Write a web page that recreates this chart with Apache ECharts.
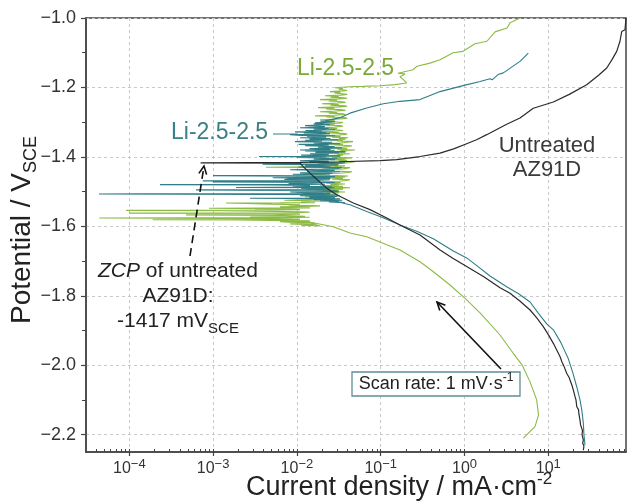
<!DOCTYPE html>
<html>
<head>
<meta charset="utf-8">
<script src="https://cdn.jsdelivr.net/npm/echarts@6/dist/echarts.min.js"></script>
<style>
  html, body { margin: 0; padding: 0; background: #fff; }
  #chart { width: 628px; height: 502px; }
</style>
</head>
<body>
<div id="chart"></div>
<script>
const FONT = '"Liberation Sans", Arial, Helvetica, sans-serif';

// Each point: [log10 of current density in mA·cm⁻², potential in V vs SCE]

// Untreated AZ91D: cathodic branch (from -2.25 V upward), zero-current point, anodic branch
const untreatedCathodic = [
  [1.418,-2.245],[1.425,-2.232],[1.410,-2.225],[1.418,-2.215],[1.402,-2.200],[1.408,-2.188],
  [1.385,-2.172],[1.378,-2.158],[1.365,-2.140],[1.360,-2.128],[1.339,-2.119],[1.330,-2.100],
  [1.318,-2.090],[1.298,-2.071],[1.285,-2.060],[1.262,-2.045],[1.250,-2.036],[1.219,-2.023],
  [1.185,-2.002],[1.162,-1.990],[1.139,-1.975],[1.100,-1.956],[1.060,-1.937],[1.000,-1.912],
  [0.940,-1.889],[0.862,-1.864],[0.782,-1.841],[0.660,-1.815],[0.543,-1.793],[0.424,-1.777],
  [0.230,-1.745],[0.026,-1.716],[-0.140,-1.692],[-0.292,-1.668],[-0.531,-1.625],[-0.730,-1.601],
  [-0.928,-1.576],[-1.128,-1.552],[-1.327,-1.533],[-1.525,-1.509],[-1.645,-1.490],[-1.804,-1.456],
  [-1.924,-1.428],[-1.963,-1.418]
];
const untreatedZcp = [[-3.15,-1.417]];
const untreatedAnodic = [
  [-1.963,-1.416],[-1.500,-1.414],[-1.008,-1.411],[-0.809,-1.408],[-0.531,-1.399],[-0.292,-1.389],
  [-0.130,-1.377],[0.026,-1.362],[0.150,-1.350],[0.265,-1.336],[0.503,-1.306],[0.662,-1.288],
  [0.821,-1.260],[1.060,-1.242],[1.250,-1.220],[1.458,-1.192],[1.600,-1.165],[1.697,-1.144],
  [1.760,-1.120],[1.816,-1.096],[1.855,-1.067],[1.876,-1.039],[1.915,-1.034],[1.927,-1.000]
];

// Li-2.5-2.5 (teal)
const tealCathodic = [
  [1.438,-2.230],[1.425,-2.200],[1.418,-2.167],[1.400,-2.130],[1.378,-2.100],[1.339,-2.062],
  [1.290,-2.020],[1.235,-1.979],[1.150,-1.935],[1.060,-1.898],[0.981,-1.881],[0.880,-1.850],
  [0.782,-1.818],[0.650,-1.795],[0.503,-1.774],[0.304,-1.743],[0.150,-1.714],[0.026,-1.691],
  [-0.134,-1.671],[-0.372,-1.636],[-0.570,-1.614],[-0.770,-1.596],[-0.970,-1.575],[-1.167,-1.557],
  [-1.366,-1.538],[-1.525,-1.529]
];
const tealActive = [
  [-1.426,-1.532],[-1.62,-1.530],[-1.50,-1.528],[-1.724,-1.527],[-1.46,-1.525],[-1.80,-1.523],
  [-1.486,-1.521],[-2.10,-1.520],[-2.560,-1.519],[-1.60,-1.5185],[-1.545,-1.518],[-1.85,-1.516],
  [-1.52,-1.514],[-1.963,-1.512],[-1.58,-1.510],[-1.510,-1.509],[-2.40,-1.508],[-4.362,-1.507],
  [-3.884,-1.5065],[-1.70,-1.506],[-1.605,-1.505],[-1.90,-1.503],[-2.082,-1.501],[-1.50,-1.500],
  [-1.545,-1.498],[-2.20,-1.497],[-3.204,-1.495],[-1.75,-1.494],[-1.605,-1.493],[-1.95,-1.491],
  [-1.963,-1.490],[-1.55,-1.489],[-2.727,-1.488],[-1.85,-1.487],[-1.581,-1.486],[-2.05,-1.484],
  [-1.844,-1.482],[-2.30,-1.481],[-3.634,-1.480],[-1.90,-1.4795],[-1.665,-1.479],[-2.10,-1.477],
  [-1.963,-1.475],[-1.55,-1.474],[-3.005,-1.472],[-2.00,-1.471],[-1.724,-1.470],[-2.60,-1.4695],
  [-3.124,-1.469],[-1.75,-1.468],[-1.605,-1.466],[-2.15,-1.465],[-2.082,-1.463],[-1.60,-1.462],
  [-2.289,-1.460],[-1.70,-1.459],[-1.545,-1.457],[-2.00,-1.456],[-3.001,-1.454],[-1.95,-1.453],
  [-1.605,-1.452],[-2.05,-1.450],[-1.58,-1.448],[-1.963,-1.446],[-1.62,-1.445],[-1.486,-1.443],
  [-1.88,-1.441],[-1.55,-1.439],[-2.082,-1.437],[-1.70,-1.435],[-1.50,-1.433],[-1.462,-1.431],
  [-1.98,-1.429],[-1.60,-1.427],[-1.903,-1.426],[-1.58,-1.424],[-1.510,-1.423],[-2.10,-1.422],
  [-2.408,-1.421],[-1.75,-1.420],[-1.48,-1.418],[-1.426,-1.417],[-1.85,-1.415],[-1.62,-1.413],
  [-1.963,-1.411],[-1.70,-1.409],[-1.545,-1.408],[-1.80,-1.406],[-1.52,-1.404],[-2.00,-1.402],
  [-1.65,-1.400],[-2.452,-1.399],[-1.80,-1.398],[-1.486,-1.397],[-1.95,-1.395],[-1.62,-1.393],
  [-1.844,-1.391],[-1.50,-1.389],[-1.78,-1.387],[-1.426,-1.385],[-1.90,-1.383],[-1.55,-1.381],
  [-1.963,-1.380],[-1.60,-1.378],[-1.85,-1.376],[-1.462,-1.374],[-1.75,-1.372],[-1.55,-1.370],
  [-1.903,-1.368],[-1.62,-1.366],[-1.98,-1.364],[-1.486,-1.362],[-1.80,-1.360],[-1.58,-1.358],
  [-2.023,-1.356],[-1.70,-1.354],[-1.90,-1.352],[-1.510,-1.351],[-1.85,-1.349],[-1.60,-1.347],
  [-1.963,-1.345],[-1.65,-1.343],[-1.88,-1.341],[-1.545,-1.339],[-1.95,-1.338],[-2.082,-1.336],
  [-1.70,-1.335],[-1.605,-1.333],[-1.92,-1.331],[-1.65,-1.330],[-2.023,-1.328],[-1.70,-1.326],
  [-1.90,-1.324],[-1.545,-1.322],[-1.80,-1.320],[-1.62,-1.318],[-1.963,-1.316],[-1.72,-1.315],
  [-1.665,-1.313],[-1.85,-1.311],[-1.903,-1.310],[-1.70,-1.308],[-1.605,-1.307],[-1.80,-1.305],
  [-1.68,-1.303],[-1.784,-1.302],[-1.60,-1.300],[-1.545,-1.299],[-1.72,-1.297],[-1.665,-1.296],
  [-1.58,-1.292],[-1.52,-1.289],[-1.486,-1.287]
];
const tealAnodic = [
  [-1.366,-1.274],[-1.167,-1.259],[-0.969,-1.247],[-0.770,-1.240],[-0.531,-1.235],[-0.292,-1.212],
  [-0.006,-1.194],[0.185,-1.183],[0.304,-1.175],[0.330,-1.178],[0.400,-1.163],[0.463,-1.158],
  [0.662,-1.125],[0.761,-1.101]
];

// Li-2.5-2.5 (green)
const greenCathodic = [
  [0.702,-2.210],[0.841,-2.177],[0.883,-2.143],[0.861,-2.100],[0.782,-2.048],[0.686,-1.999],
  [0.579,-1.965],[0.424,-1.913],[0.185,-1.849],[0.026,-1.812],[-0.173,-1.769],[-0.372,-1.731],
  [-0.531,-1.702],[-0.770,-1.668],[-0.928,-1.653],[-1.167,-1.630],[-1.366,-1.619],[-1.566,-1.601],
  [-1.927,-1.584]
];
const greenActive = [
  [-1.724,-1.599],[-1.95,-1.597],[-1.80,-1.595],[-2.082,-1.593],[-1.88,-1.591],[-1.784,-1.590],
  [-2.10,-1.588],[-2.202,-1.587],[-1.90,-1.585],[-1.844,-1.584],[-2.15,-1.5835],[-2.321,-1.583],
  [-2.70,-1.582],[-3.721,-1.581],[-2.40,-1.5805],[-1.963,-1.580],[-2.25,-1.578],[-2.90,-1.577],
  [-4.358,-1.576],[-3.20,-1.5755],[-2.082,-1.575],[-1.85,-1.574],[-2.560,-1.573],[-2.00,-1.572],
  [-1.903,-1.571],[-2.15,-1.569],[-3.323,-1.567],[-2.20,-1.566],[-1.963,-1.565],[-2.30,-1.563],
  [-4.004,-1.562],[-3.00,-1.5615],[-2.023,-1.561],[-1.85,-1.559],[-2.25,-1.557],[-2.90,-1.555],
  [-4.039,-1.554],[-2.50,-1.553],[-1.963,-1.552],[-2.15,-1.550],[-3.049,-1.548],[-2.40,-1.5475],
  [-1.844,-1.547],[-2.05,-1.545],[-2.202,-1.544],[-1.80,-1.542],[-1.724,-1.541],[-2.10,-1.539],
  [-1.963,-1.538],[-2.30,-1.536],[-2.60,-1.534],[-2.846,-1.533],[-2.20,-1.5325],[-1.784,-1.532],
  [-1.95,-1.530],[-1.724,-1.527],[-2.15,-1.525],[-2.023,-1.524],[-1.70,-1.522],[-1.605,-1.521],
  [-1.85,-1.519],[-1.65,-1.517],[-1.903,-1.515],[-1.55,-1.513],[-1.486,-1.512],[-1.75,-1.510],
  [-1.60,-1.508],[-1.844,-1.506],[-1.50,-1.504],[-1.65,-1.502],[-1.426,-1.501],[-1.70,-1.499],
  [-1.50,-1.497],[-1.784,-1.495],[-1.45,-1.493],[-1.62,-1.491],[-1.366,-1.489],[-1.60,-1.487],
  [-1.45,-1.485],[-1.724,-1.483],[-1.50,-1.481],[-1.60,-1.480],[-1.426,-1.478],[-1.65,-1.476],
  [-1.48,-1.474],[-1.844,-1.472],[-1.50,-1.470],[-1.40,-1.468],[-1.366,-1.466],[-1.58,-1.464],
  [-1.45,-1.462],[-1.665,-1.460],[-1.42,-1.458],[-1.55,-1.457],[-1.390,-1.455],[-1.62,-1.453],
  [-1.75,-1.451],[-1.903,-1.449],[-1.50,-1.447],[-1.38,-1.445],[-1.343,-1.443],[-1.55,-1.441],
  [-1.62,-1.439],[-1.724,-1.437],[-1.45,-1.435],[-1.40,-1.433],[-1.366,-1.431],[-1.90,-1.4305],
  [-2.369,-1.430],[-1.55,-1.428],[-1.426,-1.426],[-1.60,-1.424],[-1.50,-1.422],[-1.724,-1.420],
  [-1.45,-1.418],[-1.35,-1.416],[-1.307,-1.414],[-1.50,-1.412],[-1.40,-1.410],[-1.605,-1.408],
  [-1.42,-1.406],[-1.55,-1.405],[-1.343,-1.403],[-1.58,-1.401],[-1.48,-1.399],[-1.724,-1.397],
  [-1.45,-1.395],[-1.52,-1.393],[-1.366,-1.391],[-1.55,-1.389],[-1.42,-1.387],[-1.605,-1.385],
  [-1.40,-1.383],[-1.48,-1.382],[-1.307,-1.380],[-1.52,-1.378],[-1.40,-1.376],[-1.665,-1.374],
  [-1.45,-1.372],[-1.38,-1.370],[-1.343,-1.368],[-1.55,-1.366],[-1.45,-1.364],[-1.724,-1.362],
  [-1.48,-1.360],[-1.40,-1.358],[-1.331,-1.356],[-1.52,-1.354],[-1.45,-1.352],[-1.605,-1.351],
  [-1.42,-1.349],[-1.50,-1.347],[-1.390,-1.345],[-1.58,-1.343],[-1.48,-1.341],[-1.724,-1.339],
  [-1.50,-1.337],[-1.40,-1.335],[-1.426,-1.333],[-1.60,-1.331],[-1.50,-1.330],[-1.784,-1.328],
  [-1.55,-1.326],[-1.45,-1.324],[-1.462,-1.322],[-1.62,-1.320],[-1.52,-1.318],[-1.724,-1.316],
  [-1.55,-1.314],[-1.45,-1.312],[-1.486,-1.310],[-1.65,-1.308],[-1.55,-1.306],[-1.748,-1.305],
  [-1.50,-1.303],[-1.45,-1.301],[-1.462,-1.299],[-1.65,-1.297],[-1.55,-1.295],[-1.724,-1.293],
  [-1.50,-1.291],[-1.40,-1.289],[-1.426,-1.287],[-1.65,-1.285],[-1.55,-1.283],[-1.784,-1.282],
  [-1.55,-1.280],[-1.42,-1.278],[-1.450,-1.276],[-1.62,-1.274],[-1.52,-1.272],[-1.724,-1.270],
  [-1.55,-1.268],[-1.42,-1.266],[-1.486,-1.264],[-1.65,-1.262],[-1.55,-1.260],[-1.748,-1.258],
  [-1.50,-1.256],[-1.40,-1.254],[-1.426,-1.253],[-1.60,-1.251],[-1.50,-1.249],[-1.701,-1.247],
  [-1.52,-1.245],[-1.42,-1.243],[-1.462,-1.241],[-1.62,-1.239],[-1.52,-1.237],[-1.724,-1.235],
  [-1.50,-1.233],[-1.40,-1.231],[-1.438,-1.230],[-1.60,-1.228],[-1.50,-1.226],[-1.665,-1.224],
  [-1.48,-1.222],[-1.40,-1.220],[-1.414,-1.218],[-1.55,-1.216],[-1.48,-1.214],[-1.605,-1.212],
  [-1.45,-1.210],[-1.40,-1.209],[-1.390,-1.207],[-1.50,-1.205],[-1.45,-1.203],[-1.545,-1.201]
];
const greenAnodic = [
  [-1.366,-1.198],[-1.211,-1.197],[-1.008,-1.195],[-0.829,-1.192],[-0.690,-1.187],[-0.770,-1.169],
  [-0.710,-1.161],[-0.794,-1.159],[-0.615,-1.149],[-0.567,-1.139],[-0.412,-1.130],[-0.292,-1.120],
  [-0.137,-1.100],[-0.018,-1.096],[0.125,-1.074],[0.268,-1.067],[0.364,-1.040],[0.507,-1.029],
  [0.543,-1.014],[0.662,-1.000]
];

// Axis ticks
const xTickExponents = [-4, -3, -2, -1, 0, 1];
const yTickValues = [-2.2, -2.0, -1.8, -1.6, -1.4, -1.2, -1.0];
const yMinorValues = [-2.1, -1.9, -1.7, -1.5, -1.3, -1.1];
const xMin = -4.517, xMax = 1.927, yMin = -2.25, yMax = -1.0;

// log-spaced minor ticks (1..9 × 10^n)
const xMinorValues = [];
for (let n = -5; n <= 1; n++) {
  for (let k = 1; k <= 9; k++) {
    const v = n + Math.log10(k);
    if (v > xMin && v < xMax) xMinorValues.push(+v.toFixed(4));
  }
}

const MINUS = '\u2212';
const C_GREEN = '#8cbb45';
const C_TEAL = '#2f7e88';
const C_BLACK = '#2a2a2a';

const chart = echarts.init(document.getElementById('chart'), null, { renderer: 'canvas' });

function arrow(x1, y1, x2, y2, dashed) {
  // line from (x1,y1) to the head at (x2,y2), with an open V head
  const ang = Math.atan2(y2 - y1, x2 - x1);
  const L = 9, spread = 0.45;
  const h1 = [x2 - L * Math.cos(ang - spread), y2 - L * Math.sin(ang - spread)];
  const h2 = [x2 - L * Math.cos(ang + spread), y2 - L * Math.sin(ang + spread)];
  return [
    { type: 'line', shape: { x1, y1, x2, y2 }, style: { stroke: '#111', lineWidth: 1.6, lineDash: dashed ? [8, 5] : null }, z: 20 },
    { type: 'polyline', shape: { points: [h1, [x2, y2], h2] }, style: { stroke: '#111', lineWidth: 1.6, fill: null }, z: 20 }
  ];
}

const txt = (size, extra) => Object.assign({ fontSize: size, fontFamily: FONT }, extra || {});

const option = {
  animation: false,
  backgroundColor: '#fff',
  grid: { left: 86, right: 2, top: 18, bottom: 50, show: true, borderColor: '#444', borderWidth: 1.5 },
  xAxis: [
    {
      type: 'value', min: xMin, max: xMax, position: 'bottom',
      axisLine: { onZero: false, lineStyle: { color: '#444', width: 1.5 } },
      axisTick: { customValues: xTickExponents, length: 4, lineStyle: { color: '#444', width: 1.2 } },
      axisLabel: {
        customValues: xTickExponents, margin: 6, color: '#333',
        formatter: v => '{b|10}{s|' + String(Math.round(v)).replace('-', MINUS) + '}',
        rich: {
          b: { fontSize: 16, fontFamily: FONT, lineHeight: 22, color: '#333' },
          s: { fontSize: 13, fontFamily: FONT, lineHeight: 13, verticalAlign: 'top', color: '#333' }
        }
      },
      splitLine: { show: true, lineStyle: { color: '#c9c9c9', type: [3, 3], width: 1 } }
    },
    {
      type: 'value', min: xMin, max: xMax, position: 'bottom',
      axisLine: { show: false, onZero: false },
      axisTick: { customValues: xMinorValues, inside: true, length: 3, lineStyle: { color: '#444', width: 1 } },
      axisLabel: { show: false },
      splitLine: { show: false }
    }
  ],
  yAxis: [
    {
      type: 'value', min: yMin, max: yMax, position: 'left',
      axisLine: { onZero: false, lineStyle: { color: '#444', width: 1.5 } },
      axisTick: { customValues: yTickValues, length: 5, lineStyle: { color: '#444', width: 1.2 } },
      axisLabel: {
        customValues: yTickValues, margin: 10, color: '#333', fontSize: 18, fontFamily: FONT,
        formatter: v => v.toFixed(1).replace('-', MINUS)
      },
      splitLine: { show: true, lineStyle: { color: '#c9c9c9', type: [3, 3], width: 1 } }
    },
    {
      type: 'value', min: yMin, max: yMax, position: 'left',
      axisLine: { show: false, onZero: false },
      axisTick: { customValues: yMinorValues, length: 4, lineStyle: { color: '#444', width: 1 } },
      axisLabel: { show: false },
      splitLine: { show: false }
    }
  ],
  series: [
    {
      name: 'Li-2.5-2.5 green', type: 'line', xAxisIndex: 0, yAxisIndex: 0,
      data: greenCathodic.concat(greenActive, greenAnodic),
      symbol: 'none', lineStyle: { color: C_GREEN, width: 1.1 }, z: 2
    },
    {
      name: 'Li-2.5-2.5 teal', type: 'line', xAxisIndex: 0, yAxisIndex: 0,
      data: tealCathodic.concat(tealActive, tealAnodic),
      symbol: 'none', lineStyle: { color: C_TEAL, width: 1.1 }, z: 3
    },
    {
      name: 'Untreated AZ91D', type: 'line', xAxisIndex: 0, yAxisIndex: 0,
      data: untreatedCathodic.concat(untreatedZcp, untreatedAnodic),
      symbol: 'none', lineStyle: { color: C_BLACK, width: 1.2 }, z: 4
    }
  ],
  graphic: [
    // curve labels
    { type: 'text', x: 297, y: 69, z: 30, style: Object.assign(txt(23), { text: 'Li-2.5-2.5', fill: '#7aa83a', align: 'left', verticalAlign: 'middle' }) },
    { type: 'text', x: 171, y: 133, z: 30, style: Object.assign(txt(23), { text: 'Li-2.5-2.5', fill: '#3b7f87', align: 'left', verticalAlign: 'middle' }) },
    { type: 'line', shape: { x1: 273, y1: 134, x2: 297, y2: 134 }, style: { stroke: C_TEAL, lineWidth: 1 }, z: 30 },
    { type: 'text', x: 547, y: 146, z: 30, style: Object.assign(txt(22), { text: 'Untreated', fill: '#3a3a3a', align: 'center', verticalAlign: 'middle' }) },
    { type: 'text', x: 547, y: 170, z: 30, style: Object.assign(txt(22), { text: 'AZ91D', fill: '#3a3a3a', align: 'center', verticalAlign: 'middle' }) },

    // zero-current potential note
    ...arrow(190, 256, 204, 166, true),
    { type: 'text', x: 178, y: 271, z: 30, style: {
        text: '{i|ZCP}{n| of untreated}', align: 'center', verticalAlign: 'middle', fill: '#222',
        rich: { i: txt(21, { fontStyle: 'italic', fill: '#222' }), n: txt(21, { fill: '#222' }) } } },
    { type: 'text', x: 178, y: 296, z: 30, style: Object.assign(txt(21), { text: 'AZ91D:', fill: '#222', align: 'center', verticalAlign: 'middle' }) },
    { type: 'text', x: 178, y: 321, z: 30, style: {
        text: '{n|-1417 mV}{sub|SCE}', align: 'center', verticalAlign: 'middle', fill: '#222',
        rich: { n: txt(21, { lineHeight: 30, fill: '#222' }), sub: txt(15, { lineHeight: 15, verticalAlign: 'bottom', fill: '#222' }) } } },

    // scan rate note
    ...arrow(501, 369, 437, 302, false),
    { type: 'rect', shape: { x: 352, y: 372, width: 168, height: 24 }, style: { fill: '#fff', stroke: '#5f8f96', lineWidth: 1.3 }, z: 25 },
    { type: 'text', x: 436, y: 384, z: 30, style: {
        text: '{n|Scan rate: 1 mV\u00b7s}{sup|-1}', align: 'center', verticalAlign: 'middle', fill: '#222',
        rich: { n: txt(18, { lineHeight: 24, fill: '#222' }), sup: txt(12, { lineHeight: 12, verticalAlign: 'top', fill: '#222' }) } } },

    // axis titles
    { type: 'text', x: 399, y: 488, z: 30, style: {
        text: '{n|Current density / mA\u00b7cm}{sup|-2}', align: 'center', verticalAlign: 'middle', fill: '#222',
        rich: { n: txt(27, { lineHeight: 34, fill: '#222' }), sup: txt(17, { lineHeight: 17, verticalAlign: 'top', fill: '#222' }) } } },
    { type: 'text', x: 22, y: 230, rotation: Math.PI / 2, z: 30, style: {
        text: '{n|Potential / V}{sub|SCE}', align: 'center', verticalAlign: 'middle', fill: '#222',
        rich: { n: txt(28, { lineHeight: 36, fill: '#222' }), sub: txt(18, { lineHeight: 18, verticalAlign: 'bottom', fill: '#222' }) } } }
  ]
};

chart.setOption(option);
</script>
</body>
</html>
